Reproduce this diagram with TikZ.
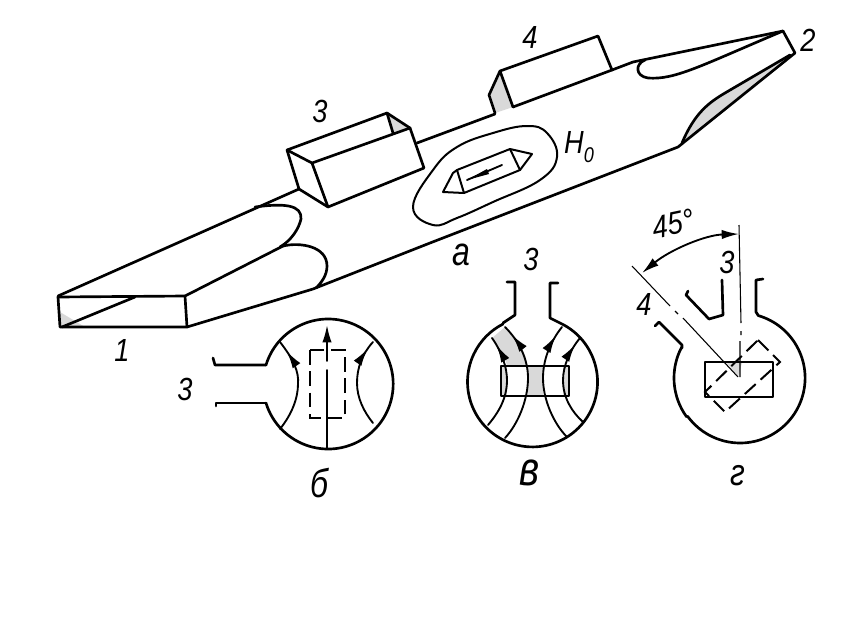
\documentclass[tikz,border=0pt]{standalone}
\usepackage{fontspec}
\setmainfont{Liberation Sans}
\usetikzlibrary{arrows.meta,decorations.markings}
\definecolor{wash}{gray}{0.85}
\tikzset{
	outline/.style={line width=2pt,line join=round,line cap=round},
	fieldline/.style={line width=1.4pt,line cap=round},
	chainline/.style={line width=0.8pt},
	dashrect/.style={line width=1.5pt,dash pattern=on 11pt off 5pt},
	tip at/.style={postaction={decorate},decoration={markings,mark=at position #1 with {\arrowreversed{Latex[length=13pt,width=7pt]}}}},
	sign/.style={font=\fontsize{24}{24}\selectfont\itshape,inner sep=0pt,xscale=0.85},
	capsign/.style={font=\fontsize{#1}{#1}\selectfont\itshape,inner sep=0pt,xscale=0.8}
}
\begin{document}
\begin{tikzpicture}[x=0.75pt,y=-0.75pt]
	\useasboundingbox (0,0) rectangle (850,622);
	% shaded faces
	\fill[wash] (500,71)--(489,95)--(495,113)--(513,107)--cycle;
	\fill[wash] (387,113)--(410,128)--(393,133)--cycle;
	\fill[wash] (682,143) .. controls (695,112) and (710,102) .. (725,93) -- (793,53) -- (678,147) -- cycle;
	\fill[wash] (783,31)--(755,37)--(768,38)--cycle;
	\fill[wash] (60,312)--(60,327)--(85,327)--cycle;
	\fill[wash] (727,363)--(742,363)--(738,377)--cycle;
	% body of the guide
	\draw[outline] (58,297)--(185,296)--(187,327)--(60,327)--cycle;
	\draw[outline] (62,327)--(135,297);
	\draw[outline] (58,296)--(299,189);
	\draw[outline] (185,296)--(283,246);
	\draw[outline] (187,327)--(313,289)--(430,243)--(678,147)--(795,53)--(783,31)--(633,62)--(612,70);
	\draw[outline] (513,107)--(612,70);
	\draw[outline] (417,143)--(495,114);
	\draw[outline] (255,207) .. controls (285,203) and (302,205) .. (301,219) .. controls (299,228) and (292,240) .. (280,247);
	\draw[outline] (283,246) .. controls (300,242) and (327,246) .. (327,266) .. controls (327,275) and (322,282) .. (316,288);
	\draw[outline] (645,60) .. controls (635,64) and (635,76) .. (648,78) .. controls (675,80) and (700,66) .. (783,31);
	\draw[outline] (682,143) .. controls (695,112) and (710,102) .. (725,93) -- (790,55);
	% waveguide 3
	\draw[outline] (287,150)--(387,113)--(410,128)--(424,168)--(328,207)--(299,189)--cycle;
	\draw[outline] (287,150)--(312,163)--(410,128);
	\draw[outline] (312,163)--(328,207);
	\draw[outline] (387,113)--(393,133);
	% waveguide 4
	\draw[outline] (513,107)--(500,71)--(598,36)--(612,70);
	\draw[outline] (500,71)--(489,95)--(495,113);
	% contour and sample
	\draw[outline,line width=1.5pt] plot[smooth cycle,tension=0.7] coordinates {(413,207) (433,225) (457,218) (493,202) (540,180) (557,157) (547,133) (527,126) (493,133) (457,147) (433,170)};
	\draw[outline,line width=1.5pt] (457,170)--(510,149)--(520,170)--(464,193)--cycle;
	\draw[outline,line width=1.5pt] (457,170)--(453,173)--(443,192)--(464,193);
	\draw[outline,line width=1.5pt] (510,149)--(532,154)--(520,170);
	\draw[fieldline] (502,165)--(467,180);
	\fill (467,180)--(487,169)--(489,174)--cycle;
	% panel b
	\draw[outline] (266,365) arc[start angle=197,end angle=523,radius=65];
	\draw[outline] (213,358)--(215,365)--(266,365);
	\draw[outline] (216,406)--(216,403)--(262,403)--(266,403);
	\draw[fieldline,tip at=0.12] (280,342) .. controls (294,360) and (299,372) .. (298,384) .. controls (298,398) and (292,414) .. (280,429);
	\draw[fieldline,tip at=0.1] (373,342) .. controls (362,354) and (357,368) .. (357,383) .. controls (357,398) and (364,412) .. (373,423);
	\draw[fieldline] (327,448)--(327,370);
	\draw[fieldline,-{Latex[length=13pt,width=7pt]}] (327,361)--(327,325);
	\draw[dashrect] (310,350) rectangle (345,418);
	% panel v
	\fill[wash] (492,338)--(505,327) .. controls (518,342) and (527,352) .. (527,366)--(507,366) .. controls (505,356) and (500,348) .. (492,338);
	\fill[wash] (527,366) rectangle (543,396);
	\fill[wash] (501,366) rectangle (507,396);
	\fill[wash] (563,366) rectangle (569,396);
	\draw[outline] (560,323) arc[start angle=-65,end angle=243,radius=65];
	\draw[outline] (507,282)--(515,282)--(515,315)--(503,323);
	\draw[outline] (558,283)--(550,283)--(550,318)--(560,323);
	\draw[fieldline,tip at=0.09] (492,338) .. controls (502,352) and (507,368) .. (507,380) .. controls (507,398) and (499,412) .. (488,425);
	\draw[fieldline,tip at=0.09] (505,327) .. controls (520,342) and (528,360) .. (528,378) .. controls (528,400) and (518,424) .. (505,438);
	\draw[fieldline,tip at=0.09] (562,327) .. controls (550,342) and (543,360) .. (543,378) .. controls (543,400) and (554,424) .. (567,437);
	\draw[fieldline,tip at=0.09] (580,338) .. controls (570,350) and (563,366) .. (563,380) .. controls (563,398) and (572,412) .. (583,422);
	\draw[outline] (501,366) rectangle (569,396);
	% panel g
	\draw[outline] (758,315.5) arc[start angle=-74,end angle=144,radius=65];
	\draw[outline] (686.6,416.8) arc[start angle=144,end angle=208,radius=66];
	\draw[outline] (758,315)--(756,312)--(756,280)--(763,279);
	\draw[outline] (722,280)--(723,315)--(709,319)--(686,295)--(688,291);
	\draw[outline] (655,326)--(659,322)--(682,345)--(682,348);
	\draw[outline] (705,362) rectangle (773,397);
	\draw[dashrect] (758,340)--(780,362)--(725,412)--(705,392)--cycle;
	\draw[chainline] (739,225)--(741,323) (741,331)--(741,335) (740,341)--(740,377);
	\draw[chainline] (632,266)--(670,306) (675,311)--(678,314) (683,318)--(738,377);
	\draw[fieldline,{Latex[length=13pt,width=7pt]}-{Latex[length=13pt,width=7pt]}] (642,273) .. controls (670,250) and (705,235) .. (739,234);
	% labels
	\node[sign] (num3a) at (320,111) {3};
	\node[sign] (num4a) at (530,37) {4};
	\node[sign] (num2) at (808,40) {2};
	\node[sign] (num1) at (122,350) {1};
	\node[sign] (num3b) at (185,389) {3};
	\node[sign] (num3c) at (531,259) {3};
	\node[sign] (num3d) at (727,262) {3};
	\node[sign] (num4b) at (644,304) {4};
	\node[sign] (field) at (579,147) {H\raisebox{-0.3em}{\fontsize{16}{16}\selectfont 0}};
	\node[sign,rotate=10] (angle) at (673,224) {45°};
	\node[capsign=30] (capa) at (461,255) {а};
	\node[capsign=30] (capb) at (319,483) {б};
	\node[capsign=36] (capv) at (530,473) {в};
	\node[capsign=28] (capg) at (738,476) {г};
\end{tikzpicture}
\end{document}
